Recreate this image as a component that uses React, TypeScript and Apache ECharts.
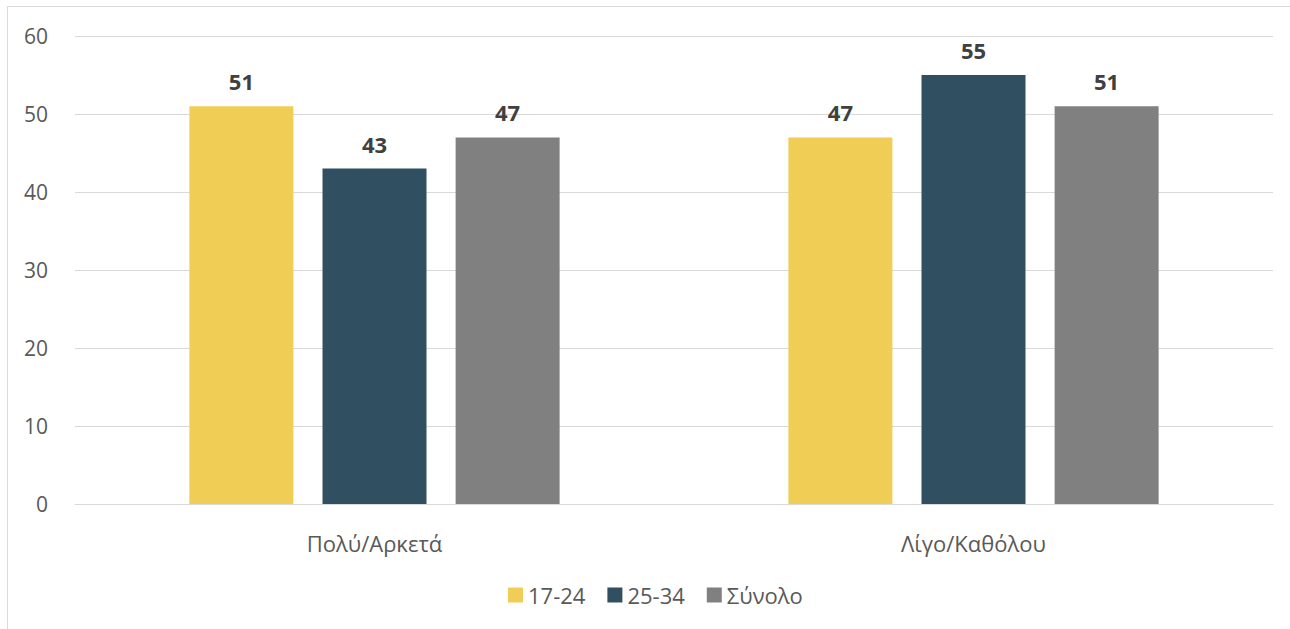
import React, { useEffect, useRef } from "react";
import * as echarts from "echarts";

const categories = ["Πολύ/Αρκετά", "Λίγο/Καθόλου"];
const seriesNames = ["17-24", "25-34", "Σύνολο"];
const values1724 = [51, 47];
const values2534 = [43, 55];
const valuesTotal = [47, 51];
const colors = ["#F0CD55", "#304F60", "#808080"];

const FONT = "'Segoe UI', 'Open Sans', sans-serif";

export default function App() {
  const ref = useRef<HTMLDivElement>(null);
  useEffect(() => {
    if (!ref.current) return;
    const chart = echarts.init(ref.current, null, { renderer: "svg" });
    const data = [values1724, values2534, valuesTotal];
    chart.setOption({
      animation: false,
      textStyle: { fontFamily: FONT },
      graphic: [
        {
          type: "rect",
          shape: { x: 7.5, y: 6.5, width: 1400, height: 700 },
          style: { fill: "none", stroke: "#d9d9d9", lineWidth: 1 },
          silent: true,
        },
      ],
      grid: { left: 75, right: 17, top: 36, bottom: 125, containLabel: false },
      legend: {
        data: seriesNames,
        bottom: 18,
        left: 503,
        itemWidth: 15,
        itemHeight: 15,
        itemGap: 22,
        icon: "rect",
        textStyle: { fontSize: 22, color: "#595959", fontFamily: FONT },
      },
      xAxis: {
        type: "category",
        data: categories,
        axisLine: { show: true, lineStyle: { color: "#d9d9d9", width: 1 } },
        axisTick: { show: false },
        axisLabel: { fontSize: 22, color: "#595959", margin: 28, fontFamily: FONT },
      },
      yAxis: {
        type: "value",
        min: 0,
        max: 60,
        interval: 10,
        axisLine: { show: false },
        axisTick: { show: false },
        splitLine: { lineStyle: { color: "#d9d9d9", width: 1 } },
        axisLabel: { fontSize: 21, color: "#595959", margin: 27, fontFamily: FONT },
      },
      series: seriesNames.map((name, i) => ({
        name,
        type: "bar",
        data: data[i],
        barWidth: 104,
        barGap: "28%",
        itemStyle: { color: colors[i] },
        label: {
          show: true,
          position: "top",
          distance: 14,
          fontSize: 22,
          fontWeight: "bold",
          color: "#404040",
          fontFamily: FONT,
        },
      })),
    });
    return () => chart.dispose();
  }, []);
  return (
    <div
      ref={ref}
      style={{ position: "absolute", left: 0, top: 0, width: 1290, height: 629 }}
    />
  );
}
